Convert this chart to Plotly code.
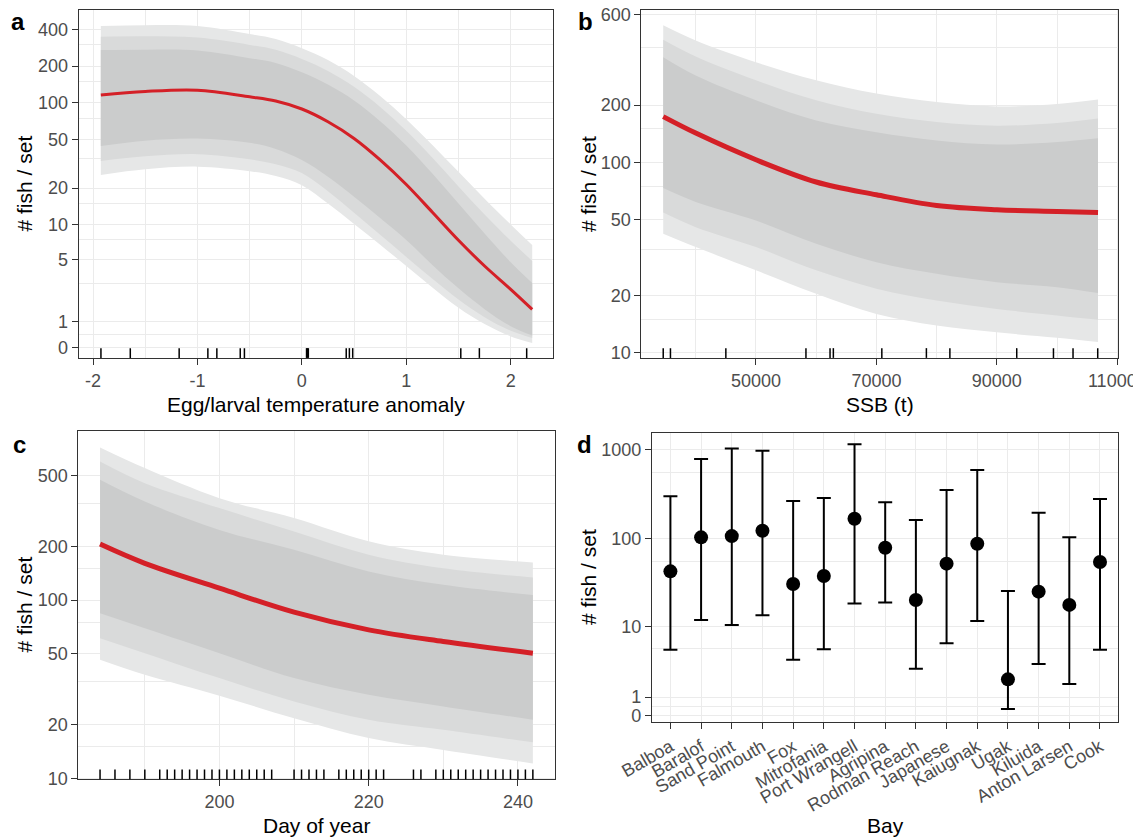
import numpy as np
import plotly.graph_objects as go

# ---------------- panel a: egg/larval temperature anomaly ----------------
temp_x = [-1.925, -1.5, -1.0, -0.5, -0.25, 0.0, 0.25, 0.5, 0.75, 1.0, 1.25, 1.5, 1.75, 2.0, 2.206]
temp_fit = [116, 124, 127, 112, 103.5, 89, 70, 51.1, 34.1, 21.4, 12.65, 7.37, 4.4, 2.64, 1.55]
temp_outer_hi = [425, 432, 425, 365, 332.6, 280, 224, 166, 113.5, 73.3, 45.2, 27.2, 16.35, 10.0, 6.7]
temp_mid_hi = [347, 350, 342, 298, 271.5, 228.6, 182.4, 135.2, 92.5, 59, 35.5, 20.65, 12.1, 7.3, 4.89]
temp_inner_hi = [270, 272, 268, 232, 211.9, 177.9, 141.3, 104.7, 70.8, 44.7, 26.3, 14.9, 8.4, 4.75, 3.05]
temp_inner_lo = [44.3, 49, 51, 47, 41.9, 34.0, 24.8, 17, 11.3, 7.4, 4.5, 2.7, 1.56, 0.81, 0.44]
temp_mid_lo = [33.4, 36.5, 38, 34.5, 31.4, 26.6, 18.8, 12.5, 8.2, 5.3, 3.35, 2.05, 1.19, 0.63, 0.35]
temp_outer_lo = [25.6, 28.5, 30, 27.5, 25.1, 21.1, 14.9, 10.1, 6.76, 4.4, 2.76, 1.63, 0.9, 0.41, 0.16]
temp_rug = [-1.924, -1.643, -1.175, -0.9, -0.814, -0.59, -0.55, 0.045, 0.052,
            0.062, 0.425, 0.455, 0.487, 1.522, 1.7, 2.153]
temp_ticks = [-2, -1, 0, 1, 2]
temp_tick_text = ["-2", "-1", "0", "1", "2"]
fish_ticks_a = [0, 1, 5, 10, 20, 50, 100, 200, 400]
fish_minor_a = [0.5, 3, 7.5, 15, 35, 75, 150, 300]

# ---------------- panel b: spawning stock biomass ----------------
ssb_x = [34600, 40000, 50000, 60000, 70000, 80000, 90000, 100000, 106800]
ssb_fit = [174, 142.6, 103.3, 78.9, 67.6, 59.4, 56.4, 55.3, 54.5]
ssb_outer_hi = [525, 437, 336, 270, 230, 207.6, 197, 203, 214]
ssb_mid_hi = [441, 360, 270, 212, 180, 163, 156, 161, 170]
ssb_inner_hi = [357, 286, 212, 166, 144, 130.5, 124.4, 128, 134]
ssb_inner_lo = [73.3, 62, 49.5, 37.4, 29.9, 26, 23.5, 22.1, 20.6]
ssb_mid_lo = [54.5, 45.7, 35.9, 27.1, 21.7, 18.8, 17, 15.7, 14.9]
ssb_outer_lo = [42.2, 35.9, 27.1, 20.4, 16, 13.9, 12.8, 12.0, 11.4]
ssb_rug = [34600, 35800, 45000, 58300, 62300, 62850, 70900, 78300, 82200,
           93300, 99400, 102650, 106750]
ssb_ticks = [50000, 70000, 90000, 110000]
ssb_minor = [40000, 60000, 80000, 100000]
fish_ticks_b = [10, 20, 50, 100, 200, 600]
fish_minor_b = [15, 35, 75, 150, 400]

# ---------------- panel c: day of year ----------------
day_x = [184, 190, 200, 210, 220, 230, 242]
day_fit = [206.5, 161, 116.8, 85.6, 68.1, 58.6, 50.4]
day_outer_hi = [721, 552, 374, 289, 214, 180, 163]
day_mid_hi = [601, 454, 329, 243, 180, 151, 134]
day_inner_hi = [474, 358, 248, 192, 145, 122, 107]
day_inner_lo = [84.5, 69.6, 50.4, 36.5, 29.4, 25.3, 21.3]
day_mid_lo = [61.2, 50.4, 36.5, 27, 21.3, 18.7, 15.9]
day_outer_lo = [46.3, 38.1, 29.1, 21.7, 16.8, 14.4, 12.1]
day_rug = [184, 186, 188, 190, 192, 193, 194, 195, 196, 197, 198, 199, 200,
           201, 202, 203, 204, 205, 206, 207, 210, 211, 212, 213, 214, 216,
           217, 218, 219, 220, 221, 222, 226, 227, 229, 230, 231, 232, 233,
           234, 235, 236, 237, 238, 239, 240, 241, 242]
day_ticks = [200, 220, 240]
day_minor = [190, 210, 230]
fish_ticks_c = [10, 20, 50, 100, 200, 500]
fish_minor_c = [15, 35, 75, 150, 350]

# ---------------- panel d: bay effects ----------------
bays = ["Balboa", "Baralof", "Sand Point", "Falmouth", "Fox", "Mitrofania",
        "Port Wrangell", "Agripina", "Rodman Reach", "Japanese", "Kaiugnak",
        "Ugak", "Kiluida", "Anton Larsen", "Cook"]
bay_est = [42.4, 102.6, 106, 122, 30.5, 37.6, 166.7, 78.5, 20.1, 51.8, 87.1,
           2.18, 25.0, 17.7, 54.1]
bay_upper = [298, 785, 1035, 975, 264, 285, 1149, 255, 161, 351, 590, 25.4,
             195, 102.6, 278]
bay_lower = [5.37, 11.9, 10.45, 13.5, 4.05, 5.42, 18.4, 18.8, 3.09, 6.39,
             11.6, 0.35, 3.57, 1.84, 5.37]
fish_ticks_d = [0, 1, 10, 100, 1000]
fish_minor_d = [0.5, 5.5, 55, 550]


def pseudo_log(v):
    """Pseudo-log10 transform (asinh based, sigma = 1)."""
    return np.arcsinh(np.asarray(v, dtype=float) / 2.0) / np.log(10)


W, H = 1133, 838
FONT = "Liberation Sans, Arial, sans-serif"
TICK_FONT = dict(family=FONT, size=18, color="#4d4d4d")
GRID = "#ebebeb"
BORDER = "#333333"
RED = "#d42027"
OUTER, MID, INNER = "#e6e7e7", "#d9dada", "#cbcccc"


def px_x(p0, p1):
    return [p0 / W, p1 / W]


def px_y(top, bottom):
    return [1 - bottom / H, 1 - top / H]


def axis(domain, anchor, rng, tickvals, ticktext, minor_vals, **kw):
    d = dict(domain=domain, anchor=anchor, range=rng, tickmode="array",
             tickvals=tickvals, ticktext=ticktext, showgrid=True,
             gridcolor=GRID, gridwidth=1.4, zeroline=False, showline=True,
             mirror=True, linecolor=BORDER, linewidth=1.2, ticks="outside",
             ticklen=6, tickwidth=1.1, tickcolor=BORDER, tickfont=TICK_FONT,
             automargin=False, fixedrange=True, ticklabeloverflow="allow",
             minor=dict(tickmode="array", tickvals=minor_vals, showgrid=True,
                        gridcolor=GRID, gridwidth=0.8, ticks=""))
    d.update(kw)
    return d


fig = go.Figure()


def add_bands(x, bands, fit, xa, ya, tf, lw):
    for lo, hi, col in bands:
        fig.add_trace(go.Scatter(x=x, y=tf(lo), mode="lines", line=dict(width=0, shape="spline"),
                                 xaxis=xa, yaxis=ya, showlegend=False, hoverinfo="skip"))
        fig.add_trace(go.Scatter(x=x, y=tf(hi), mode="lines", line=dict(width=0, shape="spline"),
                                 fill="tonexty", fillcolor=col, xaxis=xa, yaxis=ya,
                                 showlegend=False, hoverinfo="skip"))
    fig.add_trace(go.Scatter(x=x, y=tf(fit), mode="lines",
                             line=dict(color=RED, width=lw, shape="spline"),
                             xaxis=xa, yaxis=ya, showlegend=False))


def ident(v):
    return list(v)


add_bands(temp_x, [(temp_outer_lo, temp_outer_hi, OUTER),
                   (temp_mid_lo, temp_mid_hi, MID),
                   (temp_inner_lo, temp_inner_hi, INNER)],
          temp_fit, "x", "y", pseudo_log, 3)
add_bands(ssb_x, [(ssb_outer_lo, ssb_outer_hi, OUTER),
                  (ssb_mid_lo, ssb_mid_hi, MID),
                  (ssb_inner_lo, ssb_inner_hi, INNER)],
          ssb_fit, "x2", "y2", ident, 5)
add_bands(day_x, [(day_outer_lo, day_outer_hi, OUTER),
                  (day_mid_lo, day_mid_hi, MID),
                  (day_inner_lo, day_inner_hi, INNER)],
          day_fit, "x3", "y3", ident, 5)

est_t = pseudo_log(bay_est)
fig.add_trace(go.Scatter(
    x=bays, y=est_t, mode="markers", xaxis="x4", yaxis="y4",
    marker=dict(color="black", size=14),
    error_y=dict(type="data", symmetric=False,
                 array=pseudo_log(bay_upper) - est_t,
                 arrayminus=est_t - pseudo_log(bay_lower),
                 color="black", thickness=2, width=7),
    showlegend=False))

# rug marks along the bottom of panels a-c
shapes = []
for vals, xr, yr in [(temp_rug, "x", "y domain"), (ssb_rug, "x2", "y2 domain"),
                     (day_rug, "x3", "y3 domain")]:
    for v in vals:
        shapes.append(dict(type="line", xref=xr, yref=yr, x0=v, x1=v, y0=0, y1=0.028,
                           line=dict(color="black", width=1.5)))

dom_a = (px_x(78.7, 553.2), px_y(9.6, 357.9))
dom_b = (px_x(641.4, 1118.4), px_y(9.6, 357.9))
dom_c = (px_x(78.4, 554.5), px_y(431, 779.3))
dom_d = (px_x(652, 1118.4), px_y(432.7, 722.3))

layout = dict(
    width=W, height=H, autosize=False,
    margin=dict(l=0, r=0, t=0, b=0),
    paper_bgcolor="white", plot_bgcolor="white",
    font=dict(family=FONT, color="black"),
    showlegend=False, shapes=shapes,
    xaxis=axis(dom_a[0], "y", [-2.137, 2.407], temp_ticks, temp_tick_text, [-1.5, -0.5, 0.5, 1.5]),
    yaxis=axis(dom_a[1], "x", [-0.0876, 2.763], list(pseudo_log(fish_ticks_a)),
               [str(v) for v in fish_ticks_a], list(pseudo_log(fish_minor_a))),
    xaxis2=axis(dom_b[0], "y2", [30977, 110183], ssb_ticks, [str(v) for v in ssb_ticks], ssb_minor),
    yaxis2=axis(dom_b[1], "x2", [0.973, 2.803], fish_ticks_b, [str(v) for v in fish_ticks_b],
                fish_minor_b, type="log"),
    xaxis3=axis(dom_c[0], "y3", [181.1, 244.9], day_ticks, [str(v) for v in day_ticks], day_minor),
    yaxis3=axis(dom_c[1], "x3", [0.994, 2.95], fish_ticks_c, [str(v) for v in fish_ticks_c],
                fish_minor_c, type="log"),
    xaxis4=dict(domain=dom_d[0], anchor="y4", range=[-0.6, 14.6], type="category",
                showgrid=True, gridcolor=GRID, gridwidth=1.4, zeroline=False,
                showline=True, mirror=True, linecolor=BORDER, linewidth=1.2,
                ticks="outside", ticklen=6, tickwidth=1.1, tickcolor=BORDER,
                tickfont=TICK_FONT, tickangle=-30, automargin=False, fixedrange=True),
    yaxis4=axis(dom_d[1], "x4", [-0.075, 3.192], list(pseudo_log(fish_ticks_d)),
                [str(v) for v in fish_ticks_d], list(pseudo_log(fish_minor_d))),
)
fig.update_layout(**layout)


def ann(text, x, y, size=21, angle=0, bold=False):
    fig.add_annotation(text=f"<b>{text}</b>" if bold else text, x=x / W, y=1 - y / H,
                       xref="paper", yref="paper", showarrow=False, textangle=angle,
                       xanchor="center", yanchor="middle",
                       font=dict(family=FONT, size=size, color="black"))


# panel tags
ann("a", 18, 22, size=24, bold=True)
ann("b", 585, 22, size=24, bold=True)
ann("c", 19, 444, size=24, bold=True)
ann("d", 584, 444, size=24, bold=True)
# axis titles
ann("# fish / set", 23.5, 184, angle=-90)
ann("# fish / set", 588, 184, angle=-90)
ann("# fish / set", 23.5, 605, angle=-90)
ann("# fish / set", 588, 577, angle=-90)
ann("Egg/larval temperature anomaly", 316, 404)
ann("SSB (t)", 880, 404)
ann("Day of year", 316, 825)
ann("Bay", 885, 825)

fig.write_html("out.html")
